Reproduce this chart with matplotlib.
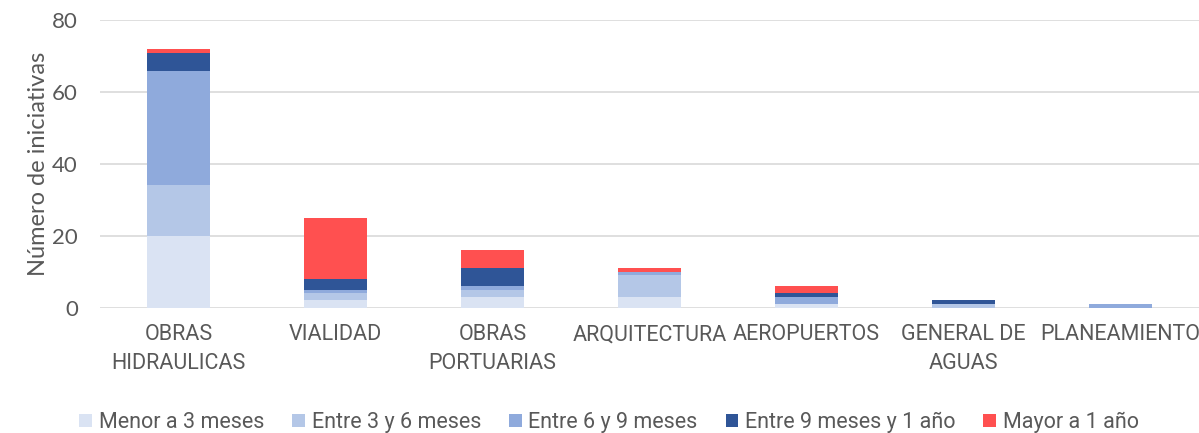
import matplotlib

matplotlib.use("Agg")
import matplotlib.pyplot as plt  # noqa: E402
from matplotlib import font_manager  # noqa: E402

categories = ["OBRAS\nHIDRAULICAS", "VIALIDAD", "OBRAS\nPORTUARIAS", "ARQUITECTURA",
              "AEROPUERTOS", "GENERAL DE\nAGUAS", "PLANEAMIENTO"]
series_names = ["Menor a 3 meses", "Entre 3 y 6 meses", "Entre 6 y 9 meses",
                "Entre 9 meses y 1 año", "Mayor a 1 año"]
menor_3 = [20, 2, 3, 3, 1, 0, 0]
entre_3_6 = [14, 2, 2, 6, 0, 1, 0]
entre_6_9 = [32, 1, 1, 1, 2, 0, 1]
entre_9_12 = [5, 3, 5, 0, 1, 1, 0]
mayor_1 = [1, 17, 5, 1, 2, 0, 0]
colors = ["#DAE3F3", "#B4C7E7", "#8FAADC", "#2F5597", "#FF5050"]

names = {f.name for f in font_manager.fontManager.ttflist}
narrow = "Liberation Sans Narrow" if "Liberation Sans Narrow" in names else "Roboto"

fig = plt.figure(figsize=(11.99, 4.33), dpi=100)
ax = fig.add_axes([100 / 1199, 1 - 307.5 / 433, 1099 / 1199, 287.2 / 433])

x = list(range(len(categories)))
bottom = [0] * len(categories)
for name, vals, c in zip(series_names, [menor_3, entre_3_6, entre_6_9, entre_9_12, mayor_1], colors):
    ax.bar(x, vals, width=0.4, bottom=bottom, color=c, label=name, zorder=3)
    bottom = [b + v for b, v in zip(bottom, vals)]

ax.set_xlim(-0.5, len(categories) - 0.5)
ax.set_ylim(0, 80)
ax.set_yticks([0, 20, 40, 60, 80])
ax.yaxis.grid(True, color="#D9D9D9", lw=1.2, zorder=0)
for s in ax.spines.values():
    s.set_visible(False)
ax.tick_params(length=0)
ax.tick_params(axis="y", labelsize=16, labelcolor="#595959", pad=16)
for t in ax.get_yticklabels():
    t.set_family("Lato")
ax.set_xticks(x)
ax.set_xticklabels(categories, fontsize=15.5, color="#595959", family=narrow, linespacing=1.5)
ax.tick_params(axis="x", pad=12)
ax.set_ylabel("Número de iniciativas", fontsize=17, color="#595959", family="Lato", labelpad=2)

leg = fig.legend(loc="lower center", bbox_to_anchor=(0.508, -0.045), ncol=5, frameon=False,
                 prop={"family": narrow, "size": 15.5}, handlelength=0.6, handleheight=0.6,
                 handletextpad=0.3, columnspacing=1.3, labelcolor="#595959")

fig.savefig("out.png", dpi=100)
